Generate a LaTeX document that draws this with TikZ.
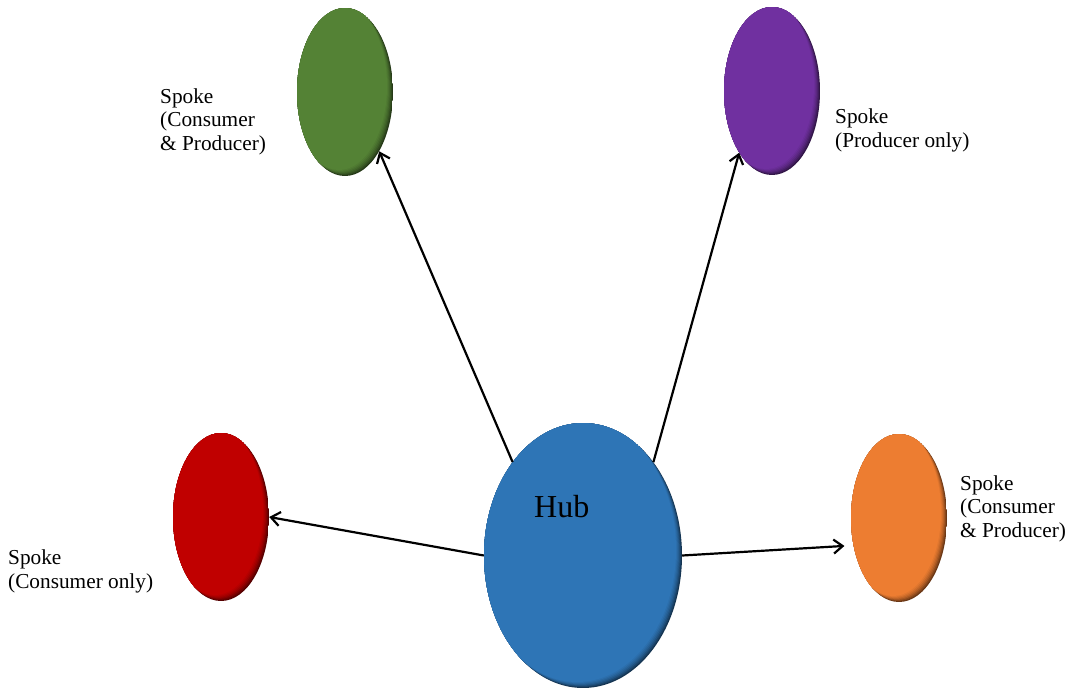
\documentclass[tikz,border=0pt]{standalone}
\usepackage{fontspec}
\setmainfont{Liberation Serif}
\usetikzlibrary{shapes.geometric,arrows.meta,calc}

\definecolor{hubblue}{RGB}{46,117,182}
\definecolor{leafgreen}{RGB}{84,130,53}
\definecolor{plum}{RGB}{112,48,160}
\definecolor{crimson}{RGB}{192,0,0}
\definecolor{amber}{RGB}{237,125,49}

% soft inner shadow towards the lower right, painted inside the node outline
\newcommand\bevelpaint[1]{%
  \fill[#1!45!black] (path picture bounding box.south west)
      rectangle (path picture bounding box.north east);
  \foreach \s/\m in {1/58,2/70,3/80,4/88,5/95,6/100}{%
    \fill[#1!\m!black]
      let \p1=($(path picture bounding box.north east)-(path picture bounding box.center)$) in
      ([shift={(-\s pt,\s pt)}]path picture bounding box.center)
      ellipse [x radius=\x1, y radius=\y1];
  }%
}

\tikzset{
  blob/.style={ellipse, draw=none, inner sep=0pt, path picture={\bevelpaint{#1}}},
  spoke/.style={blob=#1, minimum width=96pt, minimum height=168pt},
  hubshape/.style={blob=#1, minimum width=198pt, minimum height=265pt},
  link/.style={draw=black, line width=2.2pt, -{Straight Barb[length=9pt,width=14pt]}},
  % anchored at the baseline of the last line
  lbl/.style={anchor=base west, align=left, inner sep=0pt,
              font=\fontsize{21.3}{23.5}\selectfont},
}

\begin{document}
\begin{tikzpicture}[x=1pt, y=-1pt]
  \useasboundingbox (0,0) rectangle (1072,689);

  % hub and spokes
  \node[hubshape=hubblue] (hub) at (583,555.5) {};
  \node[spoke=leafgreen] (cp1) at (345,92) {};
  \node[spoke=plum]      (po)  at (772,91) {};
  \node[spoke=crimson]   (co)  at (221,517) {};
  \node[spoke=amber]     (cp2) at (899,518) {};

  % connectors
  \draw[link] (hub.127) -- (cp1.-60);
  \draw[link] (hub.53)  -- (po.242);
  \draw[link] (hub.180) -- (co.0);
  \draw[link, shorten >=9pt] (hub.0) -- (cp2.211);

  % labels
  \node[anchor=base west, inner sep=0pt, font=\fontsize{32}{36}\selectfont]
       (hubtxt) at (534,517) {Hub};
  \node[lbl] (t1) at (160,150) {Spoke\\(Consumer\\\& Producer)};
  \node[lbl] (t2) at (835,147) {Spoke\\(Producer only)};
  \node[lbl] (t3) at (8,588)   {Spoke\\(Consumer only)};
  \node[lbl] (t4) at (960,537) {Spoke\\(Consumer\\\& Producer)};
\end{tikzpicture}
\end{document}
